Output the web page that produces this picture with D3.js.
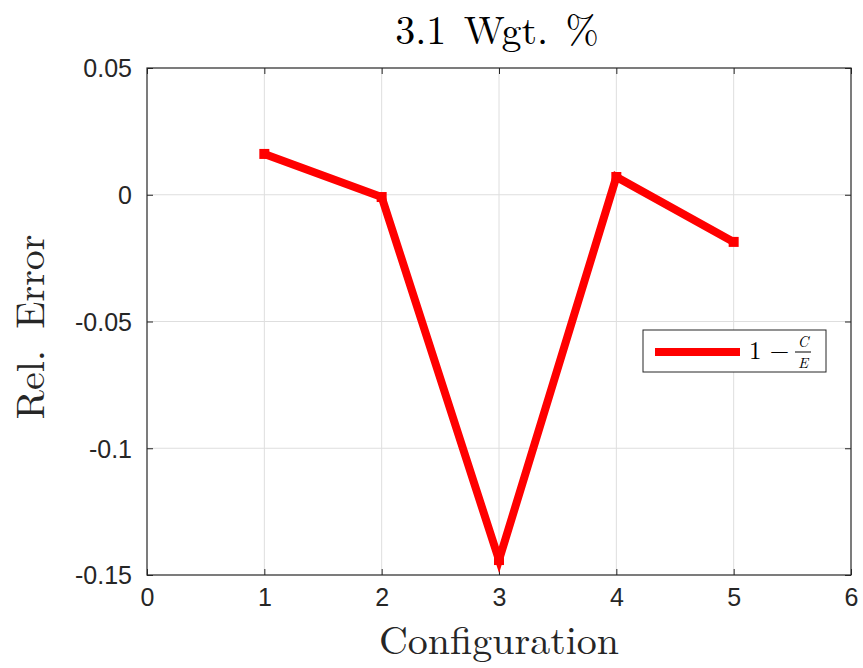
<!DOCTYPE html>
<html><head><meta charset="utf-8">
<script src="https://cdn.jsdelivr.net/npm/d3@7"></script>
<style>body{margin:0;background:#fff}</style>
</head><body><svg id="c" width="863" height="668"></svg>
<script>
const configs = [1, 2, 3, 4, 5];
const relError = [0.0161, -0.0009, -0.1441, 0.0070, -0.0186];
const xTicks = [0, 1, 2, 3, 4, 5, 6];
const yTicks = [0.05, 0, -0.05, -0.1, -0.15];
const yTickLabels = ["0.05", "0", "-0.05", "-0.1", "-0.15"];

const svg = d3.select("#c");
const L = 147, R = 851, T = 68, B = 575;
const x = d3.scaleLinear().domain([0, 6]).range([L, R]);
const y = d3.scaleLinear().domain([-0.15, 0.05]).range([B, T]);

// grid
svg.append("g").selectAll("line").data(xTicks.slice(1, -1)).join("line")
  .attr("x1", d => x(d)).attr("x2", d => x(d)).attr("y1", T).attr("y2", B)
  .attr("stroke", "#dedede").attr("stroke-width", 1);
svg.append("g").selectAll("line").data(yTicks.slice(1, -1)).join("line")
  .attr("y1", d => y(d)).attr("y2", d => y(d)).attr("x1", L).attr("x2", R)
  .attr("stroke", "#dedede").attr("stroke-width", 1);

// axes with inward ticks
const ax = d3.axisBottom(x).tickValues(xTicks).tickFormat(d3.format("d")).tickSizeInner(-6).tickSizeOuter(0).tickPadding(14);
const gx = svg.append("g").attr("transform", `translate(0,${B})`).call(ax);
const ay = d3.axisLeft(y).tickValues(yTicks).tickFormat((d, i) => yTickLabels[i]).tickSizeInner(-6).tickSizeOuter(0).tickPadding(15);
const gy = svg.append("g").attr("transform", `translate(${L},0)`).call(ay);
const axTop = d3.axisTop(x).tickValues(xTicks).tickSizeInner(-6).tickSizeOuter(0).tickFormat("");
svg.append("g").attr("transform", `translate(0,${T})`).call(axTop);
const ayR = d3.axisRight(y).tickValues(yTicks).tickSizeInner(-6).tickSizeOuter(0).tickFormat("");
svg.append("g").attr("transform", `translate(${R},0)`).call(ayR);
svg.selectAll(".domain").remove();
svg.selectAll(".tick line").attr("stroke", "#262626");
svg.selectAll(".tick text").attr("font-family", "Liberation Sans, Arial, sans-serif")
  .attr("font-size", 25).attr("fill", "#262626");
gy.selectAll(".tick text").attr("dy", "0.35em");
gx.selectAll(".tick text").attr("dy", "0.66em");

// box
svg.append("rect").attr("x", L).attr("y", T).attr("width", R - L).attr("height", B - T)
  .attr("fill", "none").attr("stroke", "#262626").attr("stroke-width", 1.2);

// line
const line = d3.line().x((d, i) => x(configs[i])).y(d => y(d));
svg.append("path").datum(relError).attr("d", line).attr("fill", "none")
  .attr("stroke", "#ff0000").attr("stroke-width", 8).attr("stroke-linejoin", "miter").attr("stroke-miterlimit", 4);
svg.append("g").selectAll("rect").data(relError).join("rect")
  .attr("x", (d, i) => x(configs[i]) - 5).attr("y", d => y(d) - 5)
  .attr("width", 10).attr("height", 10).attr("fill", "#ff0000");

// title & labels
const serif = "Latin Modern Roman, CMU Serif, Liberation Serif, Times New Roman, serif";
svg.append("text").attr("x", 497).attr("y", 44).attr("text-anchor", "middle")
  .attr("font-family", serif).attr("font-size", 40).attr("word-spacing", 4).attr("fill", "#000").text("3.1 Wgt. %");
svg.append("text").attr("x", 499).attr("y", 654).attr("text-anchor", "middle")
  .attr("font-family", serif).attr("font-size", 40).attr("fill", "#262626").text("Configuration");
svg.append("text").attr("transform", "translate(44,327) rotate(-90)").attr("text-anchor", "middle")
  .attr("font-family", serif).attr("font-size", 40).attr("word-spacing", 8).attr("fill", "#262626").text("Rel. Error");

// legend
const lg = svg.append("g");
lg.append("rect").attr("x", 643).attr("y", 330).attr("width", 183).attr("height", 42)
  .attr("fill", "#fff").attr("stroke", "#262626").attr("stroke-width", 1);
lg.append("line").attr("x1", 655).attr("x2", 740).attr("y1", 352).attr("y2", 352)
  .attr("stroke", "#ff0000").attr("stroke-width", 8);
lg.append("text").attr("x", 749).attr("y", 359).attr("font-family", serif).attr("font-size", 25).text("1 \u2212");
lg.append("text").attr("x", 803).attr("y", 347).attr("text-anchor", "middle").attr("font-family", serif)
  .attr("font-style", "italic").attr("font-size", 15).text("C");
lg.append("line").attr("x1", 795).attr("x2", 811).attr("y1", 352).attr("y2", 352).attr("stroke", "#000").attr("stroke-width", 1);
lg.append("text").attr("x", 803).attr("y", 368).attr("text-anchor", "middle").attr("font-family", serif)
  .attr("font-style", "italic").attr("font-size", 15).text("E");
</script></body></html>
